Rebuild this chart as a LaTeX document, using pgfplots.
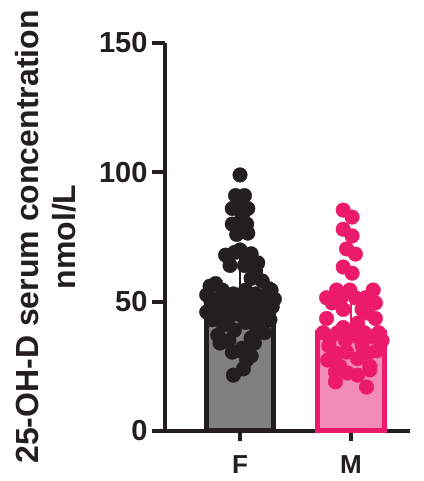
\documentclass[border=0pt]{standalone}
\usepackage{fontspec}
\setmainfont{Liberation Sans}
\usepackage{pgfplots}
\pgfplotsset{compat=1.18}
\definecolor{dk}{HTML}{231F20}
\definecolor{fgray}{HTML}{808080}
\definecolor{mpink}{HTML}{EC1A6B}
\definecolor{mfill}{HTML}{F28BB8}
\pgfplotstableread{
x y
0.00 99
-0.04 91
0.04 91
-0.02 87
-0.07 86
0.07 86
0.02 83
-0.07 80
0.06 80
-0.01 79
-0.03 76
0.07 76.5
0.00 70
-0.05 69
0.10 68.5
-0.13 68
0.06 66
0.16 65
-0.09 64
0.04 64
0.14 62
0.10 59
0.20 58
-0.22 57
-0.27 56
0.26 55
-0.16 54.5
0.05 54.5
0.28 54.5
-0.06 53
0.14 53
-0.30 52.6
0.22 52
-0.20 51
0.31 51
-0.10 50
0.00 50
0.10 50
-0.26 49.5
0.20 49
-0.15 48
0.05 48
0.29 48
-0.05 47
0.15 47
-0.30 46
0.24 46
-0.20 45
0.00 45
0.10 45
-0.10 44
0.20 44
-0.25 43
0.27 43
0.05 42
-0.15 41
0.15 40
-0.05 39
0.22 38
-0.20 37
0.10 36
-0.10 35
0.13 34
-0.18 34
0.02 32
0.00 31
-0.07 30.5
0.10 29
0.06 27.5
0.03 24
-0.06 21.6
}\Fdata
\pgfplotstableread{
x y
0.93 85.4
1.01 82.7
0.93 78
1.01 75.4
0.96 70.4
1.04 68.4
0.93 63.4
1.01 61
0.87 54.5
0.99 54.5
1.20 54.5
0.78 51.5
0.91 51.5
1.04 51.5
1.13 51.5
1.22 49.5
0.83 49.5
0.93 47
1.10 47
1.15 45.6
0.78 43.5
1.22 43.5
1.06 41.7
0.93 40
0.75 38
0.88 38
1.00 38
1.12 38
1.25 38
0.82 36.5
1.06 36.5
1.19 36.5
0.95 35
1.28 35
0.80 33
1.10 33
1.23 31
0.96 30.5
0.87 30
1.15 30
1.06 28
0.79 27.4
0.90 25
1.17 25
1.17 23.6
0.86 22.8
0.97 22.4
1.06 21.6
0.86 19
1.14 17
}\Mdata
\begin{document}
\begin{tikzpicture}
\begin{axis}[
 scale only axis, width=245pt, height=388pt,
 xmin=-0.676, xmax=1.532, ymin=0, ymax=150,
 axis x line=bottom, axis y line=left,
 axis line style={-, line width=4pt, color=dk},
 ytick={0,50,100,150}, xtick={0,1}, xticklabels={F,M},
 tick align=outside, major tick length=13pt,
 tick style={line width=4pt, color=dk},
 x tick style={yshift=3pt},
 /pgf/number format/assume math mode=true,
 yticklabel style={font=\bfseries\fontsize{29}{29}\selectfont, color=dk, xshift=-1pt},
 xticklabel style={font=\bfseries\fontsize{26}{26}\selectfont, color=dk, yshift=-8pt},
 ylabel={25-OH-D serum concentration\\nmol/L},
 ylabel style={font=\bfseries\fontsize{32}{37}\selectfont, color=dk, align=center, at={(axis description cs:-0.485,0.5)}, anchor=center},
 clip=false,
]
\addplot[ybar, bar width=67pt, fill=fgray, draw=dk, line width=5pt] coordinates {(0,49.5)};
\addplot[ybar, bar width=67pt, fill=mfill, draw=mpink, line width=5pt] coordinates {(1,38)};
\addplot[dk, line width=2.5pt] coordinates {(0,49.5) (0,67.5)};
\addplot[mpink, line width=2.5pt] coordinates {(1,38) (1,54)};
\addplot[only marks, mark=*, mark size=7.3pt, color=dk] table[x=x,y=y] {\Fdata};
\addplot[only marks, mark=*, mark size=7.3pt, color=mpink] table[x=x,y=y] {\Mdata};
\end{axis}
\pgfresetboundingbox
\path (-165pt,-50pt) rectangle (258pt,431pt);
\end{tikzpicture}
\end{document}
